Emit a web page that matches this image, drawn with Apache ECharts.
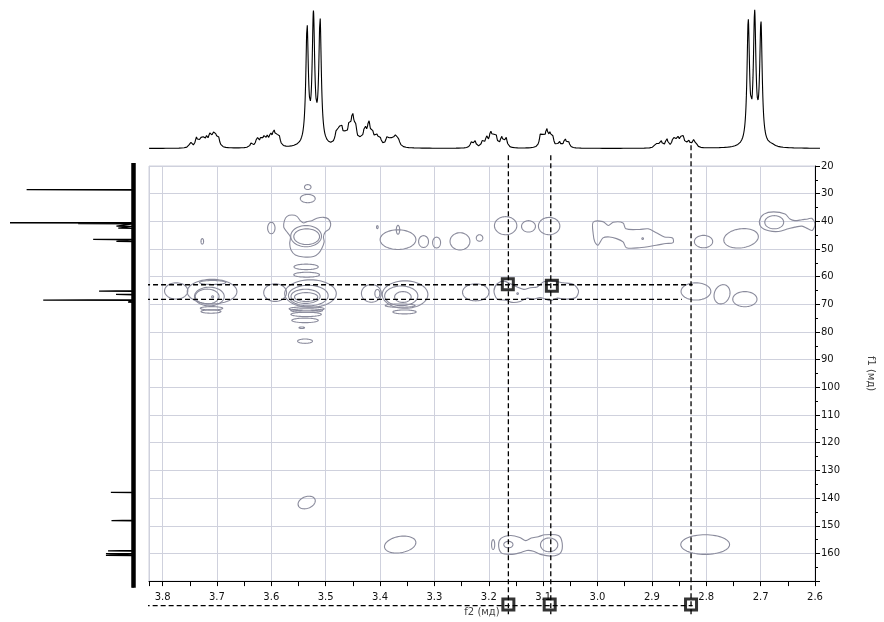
<!DOCTYPE html>
<html><head><meta charset="utf-8">
<script src="https://cdn.jsdelivr.net/npm/echarts@6/dist/echarts.min.js"></script>
<style>html,body{margin:0;padding:0;background:#fff}#c{width:884px;height:622px}</style>
</head><body><div id="c"></div>
<script>
// ---------- DATA ----------
// X axis (1H, ppm) and Y axis (13C, ppm) ranges / ticks
const xMin = 2.6, xMax = 3.825, xStep = 0.1;
const yMin = 20, yMax = 170, yStep = 10;
const xAxisTitle = 'f2 (мд)';
const yAxisTitle = 'f1 (мд)';

// 1H projection peak list: [ppm, relative height, half-width ppm]
const protonPeaks = [
  [3.7494,0.040,0.0026],[3.7384,0.068,0.0026],[3.7311,0.054,0.0026],[3.7264,0.054,0.0026],[3.7202,0.061,0.0026],
  [3.7142,0.078,0.0026],[3.7081,0.089,0.0026],[3.7032,0.065,0.0026],[3.6983,0.065,0.0026],
  [3.6380,0.032,0.0026],[3.6278,0.068,0.0026],[3.6210,0.051,0.0026],[3.6155,0.061,0.0026],[3.6095,0.061,0.0026],
  [3.6033,0.078,0.0026],[3.5973,0.101,0.0026],[3.5923,0.065,0.0026],[3.5876,0.070,0.0026],
  [3.5364,0.840,0.00274],[3.5248,0.905,0.00274],[3.5127,0.890,0.00274],
  [3.4827,0.082,0.0032],[3.4780,0.072,0.0032],[3.4736,0.110,0.0032],[3.4667,0.055,0.0032],[3.4597,0.121,0.0032],
  [3.4535,0.187,0.0032],[3.4480,0.110,0.0032],[3.4384,0.033,0.0032],[3.4310,0.121,0.0032],[3.4237,0.154,0.0032],
  [3.4170,0.077,0.0032],[3.4097,0.066,0.0032],[3.4036,0.055,0.0032],[3.3903,0.060,0.0032],[3.3841,0.055,0.0032],
  [3.3763,0.077,0.0032],[3.3702,0.055,0.0032],
  [3.2362,0.040,0.0026],[3.2301,0.047,0.0026],[3.2161,0.045,0.0026],[3.2088,0.068,0.0026],[3.2015,0.095,0.0026],
  [3.1967,0.068,0.0026],[3.1918,0.081,0.0026],[3.1814,0.074,0.0026],[3.1735,0.074,0.0026],
  [3.1101,0.088,0.0026],[3.1054,0.061,0.0026],[3.0992,0.121,0.0026],[3.0931,0.081,0.0026],[3.0882,0.068,0.0026],
  [3.0762,0.043,0.0026],[3.0658,0.061,0.0026],[3.0597,0.047,0.0026],
  [2.8995,0.034,0.0026],[2.8910,0.061,0.0026],[2.8800,0.065,0.0026],[2.8679,0.068,0.0026],[2.8606,0.078,0.0026],
  [2.8545,0.054,0.0026],[2.8497,0.068,0.0026],[2.8405,0.057,0.0026],[2.8314,0.051,0.0026],[2.8265,0.027,0.0026],
  [2.7310,0.876,0.00274],[2.7193,0.910,0.00274],[2.7078,0.861,0.00274],
  [2.6880,0.012,0.006]
];

// 13C projection lines: [ppm, relative height]
const carbonPeaks = [
  [28.4,0.865],[40.1,1.0],[40.4,0.446],[41.3,0.135],[42.0,0.12],[46.0,0.324],[46.7,0.135],
  [64.3,0.276],[65.5,0.138],[67.5,0.73],[68.2,0.04],
  [135.6,0.18],[145.6,0.175],[156.3,0.203],[157.3,0.22],[157.9,0.22]
];

// Contours approximated as ellipses: [1H ppm, 13C ppm, rx ppm, ry ppm, rotation deg]
const contourEllipses = [
  [3.533,27.62,0.0060,0.89,0],[3.533,31.77,0.0137,1.49,0],[3.600,42.41,0.0068,2.06,0],
  [3.536,45.35,0.0283,3.83,0],[3.535,45.53,0.0237,2.84,0],
  [3.536,56.45,0.0223,0.99,0],[3.535,59.29,0.0237,0.89,0],
  [3.593,65.74,0.0210,3.19,0],[3.528,66.10,0.0475,4.96,0],[3.532,66.81,0.0365,3.72,0],
  [3.537,67.09,0.0268,2.55,0],[3.536,67.34,0.0214,1.60,0],
  [3.535,71.60,0.0323,0.71,0],[3.535,72.23,0.0292,0.64,0],[3.536,73.62,0.0280,0.78,0],
  [3.538,75.78,0.0243,0.82,0],[3.544,78.44,0.0051,0.28,0],[3.538,83.30,0.0137,0.78,0],
  [3.535,141.6,0.0164,2.13,-20],
  [3.727,47.23,0.0024,0.99,0],[3.775,65.14,0.0214,2.94,0],[3.709,65.39,0.0457,4.43,0],
  [3.714,67.16,0.0274,3.37,0],[3.718,67.16,0.0219,2.66,0],[3.708,67.27,0.0018,0.35,0],
  [3.708,62.09,0.0243,0.71,0],[3.710,71.42,0.0206,0.60,0],[3.711,72.59,0.0183,0.60,0],
  [3.367,46.60,0.0329,3.55,0],[3.367,43.05,0.0031,1.60,0],[3.405,42.09,0.0015,0.53,0],
  [3.416,66.03,0.0183,3.19,0],[3.405,66.10,0.0046,1.49,0],[3.354,66.45,0.0420,4.96,0],
  [3.361,66.92,0.0305,3.55,0],[3.358,67.34,0.0152,1.95,0],[3.363,70.46,0.0274,0.60,0],
  [3.355,72.73,0.0214,0.71,0],[3.363,156.8,0.0292,2.94,-10],
  [3.320,47.30,0.0091,2.13,0],[3.296,47.66,0.0073,1.95,0],[3.253,47.23,0.0183,3.12,0],
  [3.217,46.00,0.0060,1.17,0],[3.169,41.56,0.0206,3.26,0],[3.127,41.81,0.0128,2.06,0],
  [3.089,41.70,0.0197,3.12,0],[2.917,46.24,0.0015,0.30,0],
  [2.805,47.30,0.0168,2.23,0],[2.736,46.13,0.0320,3.44,-8],[2.675,40.32,0.0174,2.38,0],
  [3.224,65.64,0.0243,3.09,0],[3.147,66.10,0.0015,0.30,0],
  [2.819,65.32,0.0274,3.12,0],[2.771,66.35,0.0142,3.55,20],[2.729,68.12,0.0223,2.73,0],
  [3.192,156.8,0.0029,1.77,0],[3.164,156.8,0.0084,1.17,0],[3.089,156.9,0.0159,2.48,0],
  [2.802,156.8,0.0449,3.55,0]
];

// Irregular contour outlines: lists of [1H ppm, 13C ppm]
const contourBlob353 = [[3.5759,39.75],[3.5711,38.19],[3.5620,37.73],[3.5529,38.19],[3.5467,39.75],[3.5406,40.57],[3.5346,40.11],[3.5255,39.75],[3.5163,38.90],[3.5041,38.55],[3.4950,39.15],[3.4908,40.92],[3.4932,42.70],[3.5010,43.87],[3.5041,45.64],[3.5028,47.41],[3.5072,49.79],[3.5132,51.56],[3.5224,52.73],[3.5406,52.87],[3.5558,52.16],[3.5638,50.39],[3.5662,48.01],[3.5649,45.64],[3.5711,43.87],[3.5772,42.09]];
const contourBlob295 = [[3.008,40.32],[2.990,40.11],[2.980,41.52],[2.971,40.32],[2.953,40.57],[2.948,42.70],[2.923,42.94],[2.907,42.70],[2.892,44.11],[2.877,45.64],[2.862,45.99],[2.861,47.66],[2.874,48.01],[2.892,48.62],[2.923,49.54],[2.947,49.54],[2.953,47.41],[2.965,46.24],[2.978,45.64],[2.990,45.99],[2.999,48.62],[3.005,47.41],[3.008,44.47]];
const contourBlob270 = [[2.702,39.75],[2.694,37.38],[2.676,36.56],[2.655,37.38],[2.646,39.15],[2.637,39.75],[2.624,39.40],[2.613,39.15],[2.606,38.90],[2.600,40.92],[2.605,43.30],[2.613,42.70],[2.624,41.74],[2.637,42.09],[2.649,42.70],[2.667,43.65],[2.685,43.40],[2.699,42.09]];
const contourChain65 = [[3.1905,65.14],[3.1845,62.55],[3.172,61.60],[3.160,62.55],[3.148,63.72],[3.1357,64.57],[3.1236,63.97],[3.111,63.72],[3.099,61.84],[3.081,61.60],[3.063,62.20],[3.044,62.80],[3.035,65.14],[3.040,67.52],[3.057,68.12],[3.075,67.77],[3.087,68.69],[3.105,67.52],[3.117,68.12],[3.130,67.77],[3.142,68.94],[3.157,69.29],[3.169,68.47],[3.1845,68.12]];
const contourChain157 = [[3.182,156.8],[3.177,154.46],[3.160,153.5],[3.143,154.21],[3.132,155.38],[3.122,154.46],[3.109,153.96],[3.097,153.26],[3.072,153.5],[3.065,156.23],[3.068,159.78],[3.084,160.95],[3.105,160.35],[3.118,159.18],[3.130,158.93],[3.143,159.78],[3.160,160.35],[3.177,159.78]];
const contourPolygons = [contourBlob353, contourBlob295, contourBlob270, contourChain65, contourChain157];

// Cursor lines: horizontal [13C ppm, from 1H, to 1H]; vertical [1H ppm, from 13C, to 13C]
const cursorH = [[62.91,3.847,2.825],[68.23,3.847,2.845],[178.87,3.833,2.825]];
const cursorV = [[3.164,16.1,182],[3.086,16.1,182],[2.828,12.5,182]];
// Marked cross peaks / cursor boxes: [1H ppm, 13C ppm]
const cursorBoxes = [[3.165,62.73],[3.084,63.26],[3.164,178.5],[3.088,178.5],[2.828,178.5]];

// ---------- BUILD ----------
const CONTOUR = '#8a8b9c', GRIDC = '#cfd1dd', FONT = 'DejaVu Sans';

const protonData = [];
for (let x = xMin; x <= xMax + 1e-9; x += 0.0004) {
  let y = 0;
  for (const [p, a, w] of protonPeaks) { const d = (x - p) / w; y += a / (1 + d * d); }
  protonData.push([x, y]);
}
const carbonData = [[0, 18.9]];
carbonPeaks.slice().sort((a, b) => a[0] - b[0]).forEach(([p, h]) => {
  carbonData.push([0, p - 0.12], [h, p], [0, p + 0.12]);
});
carbonData.push([0, 169.4]);

function renderEllipse(params, api) {
  const c = api.coord([api.value(0), api.value(1)]);
  const s = api.size([api.value(2), api.value(3)]);
  const r = api.value(4) * Math.PI / 180;
  const pts = [];
  for (let k = 0; k < 60; k++) {
    const t = k / 60 * Math.PI * 2;
    const ex = s[0] * Math.cos(t), ey = s[1] * Math.sin(t);
    pts.push([c[0] + ex * Math.cos(r) - ey * Math.sin(r), c[1] + ex * Math.sin(r) + ey * Math.cos(r)]);
  }
  return { type: 'polygon', shape: { points: pts }, style: { fill: 'none', stroke: CONTOUR, lineWidth: 1.1 } };
}
function renderPoly(params, api) {
  const poly = contourPolygons[api.value(2)];
  return { type: 'polygon', shape: { points: poly.map(p => api.coord(p)), smooth: 0.3 },
    style: { fill: 'none', stroke: CONTOUR, lineWidth: 1.1 } };
}

const series = [];
series.push({ type: 'custom', xAxisIndex: 0, yAxisIndex: 0, renderItem: renderEllipse, data: contourEllipses, clip: true, z: 2, silent: true });
series.push({ type: 'custom', xAxisIndex: 0, yAxisIndex: 0, renderItem: renderPoly,
  data: contourPolygons.map((p, i) => [p[0][0], p[0][1], i]), clip: true, z: 2, silent: true });
const dash = { color: '#000', width: 1.3, type: [5, 3] };
cursorH.forEach(([c, a, b]) => series.push({ type: 'line', xAxisIndex: 0, yAxisIndex: 0, clip: false, showSymbol: false, symbol: 'none',
  data: [[a, c], [b, c]], lineStyle: dash, z: 5, silent: true }));
cursorV.forEach(([h, a, b]) => series.push({ type: 'line', xAxisIndex: 0, yAxisIndex: 0, clip: false, showSymbol: false, symbol: 'none',
  data: [[h, a], [h, b]], lineStyle: dash, z: 5, silent: true }));
series.push({ type: 'scatter', xAxisIndex: 0, yAxisIndex: 0, clip: false, symbol: 'rect', symbolSize: 11, data: cursorBoxes,
  itemStyle: { color: 'rgba(0,0,0,0)', borderColor: '#000', borderWidth: 3 }, z: 6, silent: true });
series.push({ type: 'line', xAxisIndex: 1, yAxisIndex: 1, data: protonData, showSymbol: false, symbol: 'none', sampling: null,
  lineStyle: { color: '#000', width: 1.1 }, clip: false, silent: true });
series.push({ type: 'line', xAxisIndex: 2, yAxisIndex: 2, data: [[-0.004, 18.9], [-0.004, 169.4]], showSymbol: false, symbol: 'none',
  lineStyle: { color: '#000', width: 4.5 }, clip: false, silent: true });
series.push({ type: 'line', xAxisIndex: 2, yAxisIndex: 2, data: carbonData, showSymbol: false, symbol: 'none',
  lineStyle: { color: '#000', width: 1.3 }, clip: false, silent: true });

const xLabelFmt = v => Math.abs(v * 10 - Math.round(v * 10)) < 1e-6 ? v.toFixed(1) : '';
const option = {
  animation: false,
  backgroundColor: '#fff',
  grid: [
    { left: 149, top: 166, width: 671, height: 423.5, show: true, borderColor: GRIDC, borderWidth: 1 },
    { left: 149, top: 10, width: 671, height: 138.5 },
    { left: 10, top: 166, width: 126.7, height: 423.5 }
  ],
  xAxis: [
    { gridIndex: 0, type: 'value', min: xMin, max: xMax, interval: xStep, inverse: true, position: 'bottom',
      name: xAxisTitle, nameLocation: 'middle', nameGap: 22, nameTextStyle: { fontFamily: FONT, fontSize: 10, color: '#444' },
      axisLine: { show: true, lineStyle: { color: '#000', width: 1 } },
      axisTick: { show: true, length: 5, lineStyle: { color: '#000' } },
      minorTick: { show: true, splitNumber: 2, length: 5, lineStyle: { color: '#000' } },
      axisLabel: { formatter: xLabelFmt, fontFamily: FONT, fontSize: 10, color: '#111', margin: 11 },
      splitLine: { show: true, lineStyle: { color: GRIDC, width: 1 } } },
    { gridIndex: 1, type: 'value', min: xMin, max: xMax, inverse: true, show: false },
    { gridIndex: 2, type: 'value', min: -0.03, max: 1, inverse: true, show: false }
  ],
  yAxis: [
    { gridIndex: 0, type: 'value', min: yMin, max: yMax, interval: yStep, inverse: true, position: 'right',
      name: yAxisTitle, nameLocation: 'middle', nameGap: 51, nameRotate: -90,
      nameTextStyle: { fontFamily: FONT, fontSize: 10, color: '#444' },
      axisLine: { show: true, onZero: false, lineStyle: { color: '#000', width: 1 } },
      axisTick: { show: true, length: 5, lineStyle: { color: '#000' } },
      minorTick: { show: true, splitNumber: 2, length: 3, lineStyle: { color: '#000' } },
      axisLabel: { formatter: v => (v >= yMax ? '' : String(v)), fontFamily: FONT, fontSize: 10, color: '#111', margin: 6 },
      splitLine: { show: true, lineStyle: { color: GRIDC, width: 1 } } },
    { gridIndex: 1, type: 'value', min: 0, max: 1, show: false },
    { gridIndex: 2, type: 'value', min: yMin, max: yMax, inverse: true, show: false }
  ],
  series: series
};
const chart = echarts.init(document.getElementById('c'), null, { renderer: 'canvas' });
chart.setOption(option);
</script></body></html>
